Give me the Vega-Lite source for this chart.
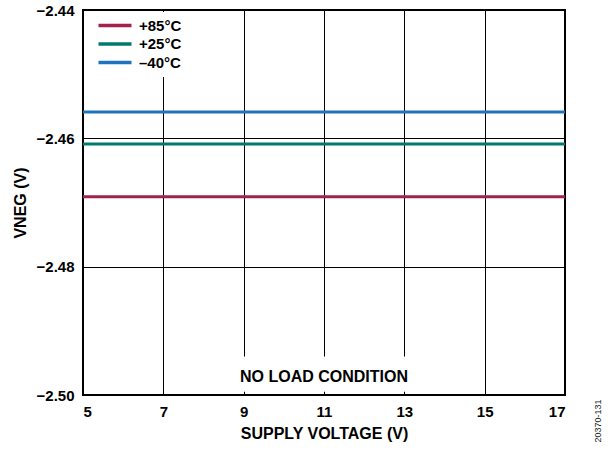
{
  "$schema": "https://vega.github.io/schema/vega-lite/v6.json",
  "width": 482,
  "height": 385,
  "autosize": {"type": "none"},
  "padding": {"left": 83, "top": 10, "right": 48, "bottom": 55},
  "background": "white",
  "config": {
    "font": "Liberation Sans",
    "view": {"stroke": "black", "strokeWidth": 2},
    "axis": {
      "labelFont": "Liberation Sans",
      "titleFont": "Liberation Sans",
      "labelFontWeight": "bold",
      "titleFontWeight": "bold",
      "labelFontSize": 15,
      "titleFontSize": 16,
      "labelColor": "black",
      "titleColor": "black",
      "grid": true,
      "gridColor": "black",
      "gridOpacity": 1,
      "gridWidth": 1,
      "ticks": false,
      "domain": false
    },
    "legend": {
      "labelFont": "Liberation Sans",
      "labelFontWeight": "bold",
      "labelFontSize": 15,
      "labelColor": "black"
    }
  },
  "data": {
    "values": [
      {"voltage": 5, "vneg": -2.4691, "temp": "+85°C"},
      {"voltage": 17, "vneg": -2.4691, "temp": "+85°C"},
      {"voltage": 5, "vneg": -2.4609, "temp": "+25°C"},
      {"voltage": 17, "vneg": -2.4609, "temp": "+25°C"},
      {"voltage": 5, "vneg": -2.4559, "temp": "–40°C"},
      {"voltage": 17, "vneg": -2.4559, "temp": "–40°C"}
    ]
  },
  "layer": [
    {
      "data": {"values": [{}]},
      "mark": {"type": "rect", "color": "white"},
      "encoding": {
        "x": {"datum": 8.8, "type": "quantitative"},
        "x2": {"datum": 13.2},
        "y": {"datum": -2.4995, "type": "quantitative"},
        "y2": {"datum": -2.4940}
      }
    },
    {
      "mark": {"type": "line", "strokeWidth": 3},
      "encoding": {
        "x": {
          "field": "voltage",
          "type": "quantitative",
          "scale": {"domain": [5, 17], "nice": false, "zero": false},
          "axis": {
            "values": [5, 7, 9, 11, 13, 15, 17],
            "format": "d",
            "labelPadding": 9,
            "title": "SUPPLY VOLTAGE (V)",
            "titlePadding": 6
          }
        },
        "y": {
          "field": "vneg",
          "type": "quantitative",
          "scale": {"domain": [-2.5, -2.44], "nice": false, "zero": false},
          "axis": {
            "values": [-2.5, -2.48, -2.46, -2.44],
            "format": ".2f",
            "labelExpr": "replace(datum.label, '-', '–')",
            "labelPadding": 9,
            "title": "VNEG (V)",
            "titlePadding": 8
          }
        },
        "color": {
          "field": "temp",
          "type": "nominal",
          "sort": ["+85°C", "+25°C", "–40°C"],
          "scale": {"domain": ["+85°C", "+25°C", "–40°C"], "range": ["#A3224C", "#007A6E", "#1E73BE"]},
          "legend": {
            "title": null,
            "orient": "top-left",
            "offset": 2,
            "padding": 6,
            "fillColor": "white",
            "symbolType": "M0,0H6",
            "symbolSize": 121,
            "symbolStrokeWidth": 3.5,
            "rowPadding": 2.5,
            "labelOffset": 33
          }
        }
      }
    },
    {
      "data": {"values": [{}]},
      "mark": {"type": "text", "fontWeight": "bold", "fontSize": 16, "font": "Liberation Sans", "color": "black", "align": "center", "baseline": "middle"},
      "encoding": {
        "x": {"datum": 11, "type": "quantitative"},
        "y": {"datum": -2.4972, "type": "quantitative"},
        "text": {"value": "NO LOAD CONDITION"}
      }
    },
    {
      "data": {"values": [{}]},
      "mark": {"type": "text", "fontSize": 9, "font": "Liberation Sans", "color": "#222", "align": "center", "baseline": "middle", "angle": 270},
      "encoding": {
        "x": {"datum": 17.82, "type": "quantitative"},
        "y": {"datum": -2.50405, "type": "quantitative"},
        "text": {"value": "20370-131"}
      }
    }
  ]
}
